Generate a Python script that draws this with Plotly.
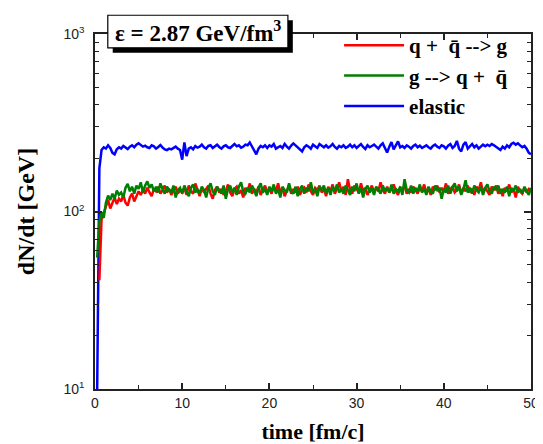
import numpy as np
import plotly.graph_objects as go

# time step 0.25 fm/c
dt = 0.25

elastic = [
    None, 10, 175, 222, 230, 226, 236, 228,
    214, 210, 224, 230, 226, 234, 229, 225,
    232, 236, 230, 238, 242, 236, 232, 235,
    230, 228, 236, 233, 226, 231, 237, 229,
    224, 222, 226, 224, 228, 232, 226, 222,
    196, 245, 205, 226, 230, 224, 234, 229,
    232, 238, 230, 226, 234, 236, 228, 232,
    238, 231, 226, 233, 236, 230, 228, 234,
    240, 233, 236, 229, 232, 238, 236, 245,
    234, 222, 210, 226, 234, 230, 236, 228,
    236, 232, 240, 226, 230, 234, 228, 240,
    232, 226, 235, 242, 236, 230, 222, 218,
    230, 236, 232, 226, 238, 233, 228, 240,
    235, 230, 236, 229, 233, 240, 231, 226,
    234, 230, 236, 228, 232, 238, 230, 236,
    228, 234, 240, 231, 225, 236, 230, 234,
    238, 232, 226, 236, 242, 228, 215, 232,
    246, 224, 238, 248, 230, 234, 228, 236,
    232, 226, 234, 238, 230, 235, 228, 232,
    236, 230, 226, 234, 238, 232, 228, 236,
    233, 226, 235, 240, 228, 234, 250, 226,
    218, 238, 246, 226, 234, 240, 230, 236,
    226, 232, 238, 233, 238, 234, 240, 236,
    232, 228, 222, 232, 226, 236, 230, 240,
    244, 238, 242, 236, 230, 234, 226, 214,
    210,
]

qqbar_to_g = [
    None, None, 41, 90, 98, 108, 116, 104,
    112, 120, 110, 118, 114, 124, 112, 108,
    120, 126, 114, 122, 130, 124, 132, 126,
    136, 128, 122, 134, 130, 138, 126, 132,
    140, 128, 134, 124, 130, 138, 126, 132,
    128, 136, 124, 140, 130, 126, 144, 132,
    122, 136, 128, 134, 140, 126, 118, 132,
    138, 128, 134, 124, 130, 142, 128, 122,
    134, 138, 126, 132, 120, 136, 130, 144,
    126, 134, 128, 138, 124, 132, 140, 128,
    134, 126, 138, 130, 144, 128, 136, 122,
    132, 140, 126, 134, 128, 138, 124, 132,
    136, 128, 142, 130, 124, 136, 132, 140,
    128, 134, 122, 138, 130, 142, 126, 134,
    146, 130, 138, 124, 152, 132, 126, 140,
    134, 128, 144, 130, 136, 124, 132, 140,
    128, 136, 130, 146, 132, 126, 138, 128,
    134, 142, 130, 124, 136, 132, 140, 126,
    134, 128, 138, 132, 126, 136, 130, 142,
    128, 134, 124, 138, 132, 140, 128, 136,
    130, 144, 126, 134, 138, 128, 132, 142,
    126, 136, 130, 140, 128, 134, 124, 138,
    132, 146, 128, 136, 130, 124, 138, 132,
    140, 126, 134, 122, 136, 130, 142, 128,
    134, 120, 138, 130, 126, 136, 128, 134,
    132,
]

g_to_qqbar = [
    None, 55, 88, 99, 92, 112, 123, 116,
    126, 118, 131, 124, 128, 120, 136, 143,
    130, 138, 126, 140, 134, 146, 128, 140,
    148, 136, 142, 130, 138, 128, 144, 134,
    126, 138, 132, 128, 140, 120, 132, 136,
    126, 140, 130, 122, 136, 142, 128, 134,
    126, 138, 132, 120, 136, 144, 130, 124,
    138, 132, 126, 140, 118, 134, 140, 128,
    136, 124, 138, 146, 130, 126, 136, 128,
    140, 132, 122, 136, 144, 128, 134, 124,
    138, 130, 142, 126, 134, 120, 138, 132,
    128, 144, 130, 126, 138, 122, 134, 140,
    126, 136, 130, 146, 128, 134, 122, 138,
    132, 140, 126, 136, 124, 138, 130, 142,
    128, 134, 126, 140, 132, 124, 138, 130,
    144, 126, 136, 120, 134, 140, 128, 136,
    124, 138, 132, 126, 140, 130, 136, 128,
    142, 126, 134, 130, 138, 124, 152, 132,
    128, 140, 126, 136, 130, 142, 128, 134,
    124, 138, 130, 126, 140, 132, 136, 118,
    134, 128, 140, 126, 136, 144, 130, 138,
    124, 134, 150, 128, 136, 126, 140, 132,
    128, 138, 124, 136, 142, 130, 126, 138,
    132, 140, 126, 134, 128, 138, 122, 136,
    130, 140, 128, 134, 126, 138, 130, 124,
    136,
]

series_names = ["q +  q\u0304 --> g", "g --> q +  q\u0304", "elastic"]
series_colors = ["#ff0000", "#008000", "#0000ff"]
series_values = [qqbar_to_g, g_to_qqbar, elastic]

x_ticks = [0, 10, 20, 30, 40, 50]
y_ticks = [10, 100, 1000]
y_ticktext = ["10<sup>1</sup>", "10<sup>2</sup>", "10<sup>3</sup>"]

fig = go.Figure()
draw_order = [2, 0, 1]
for k in draw_order:
    vals = series_values[k]
    t = np.arange(len(vals)) * dt
    fig.add_trace(go.Scatter(
        x=t, y=vals, mode="lines", name="<b>" + series_names[k] + "</b>",
        line=dict(color=series_colors[k], width=2.5),
        legendrank=k + 1, legendgroup=str(k),
        connectgaps=False,
    ))

W, H = 543, 444
L, R, T, B = 87, 13, 26, 58
pw, ph = W - L - R, H - T - B

def px(xp):
    return (xp - L) / pw

def py(yp):
    return (H - B - yp) / ph

axis_common = dict(
    showline=True, linecolor="#222222", linewidth=1.5, mirror="ticks",
    ticks="inside", tickcolor="#222222", showgrid=False, zeroline=False,
    tickfont=dict(family="Liberation Sans, Arial", size=14, color="#222222"),
)

fig.update_layout(
    width=W, height=H,
    margin=dict(l=L, r=R, t=T, b=B),
    paper_bgcolor="white", plot_bgcolor="white",
    xaxis=dict(
        range=[0, 50], tickvals=x_ticks, ticklen=6, tickwidth=1.5,
        minor=dict(dtick=5, tick0=0, ticks="inside", ticklen=4, tickcolor="#222222", tickwidth=1.2),
        title=dict(text="<b>time [fm/c]</b>", font=dict(family="Liberation Serif, Times New Roman", size=22, color="black"), standoff=14),
        **axis_common,
    ),
    yaxis=dict(
        type="log", range=[1, 3], tickvals=y_ticks, ticktext=y_ticktext,
        ticklen=7, tickwidth=1.5, ticklabelstandoff=6,
        minor=dict(ticks="inside", ticklen=4, tickcolor="#222222", tickwidth=1.2,
                   tickvals=[v * m for m in (10, 100) for v in range(2, 10)]),
        title=dict(text="<b>dN/dt [GeV]</b>", font=dict(family="Liberation Serif, Times New Roman", size=24, color="black"), standoff=22),
        **axis_common,
    ),
    legend=dict(
        x=px(335), y=py(17), xanchor="left", yanchor="top",
        bgcolor="rgba(0,0,0,0)", borderwidth=0,
        font=dict(family="Liberation Serif, Times New Roman", size=21, color="black"),
        itemwidth=60, tracegroupgap=0,
    ),
    showlegend=True,
)

# shadowed label box
fig.add_shape(type="rect", xref="paper", yref="paper",
              x0=px(105), x1=px(288), y0=py(45), y1=py(12),
              fillcolor="black", line=dict(width=0), layer="above")
fig.add_shape(type="rect", xref="paper", yref="paper",
              x0=px(100), x1=px(283), y0=py(40), y1=py(7),
              fillcolor="white", line=dict(color="black", width=1.2), layer="above")
fig.add_annotation(
    xref="paper", yref="paper", x=px(191.5), y=py(23.5),
    xanchor="center", yanchor="middle", showarrow=False,
    text="<b>\u03b5 = 2.87 GeV/fm<sup>3</sup></b>",
    font=dict(family="Liberation Serif, Times New Roman", size=23, color="black"),
)

fig.write_html("out.html")
